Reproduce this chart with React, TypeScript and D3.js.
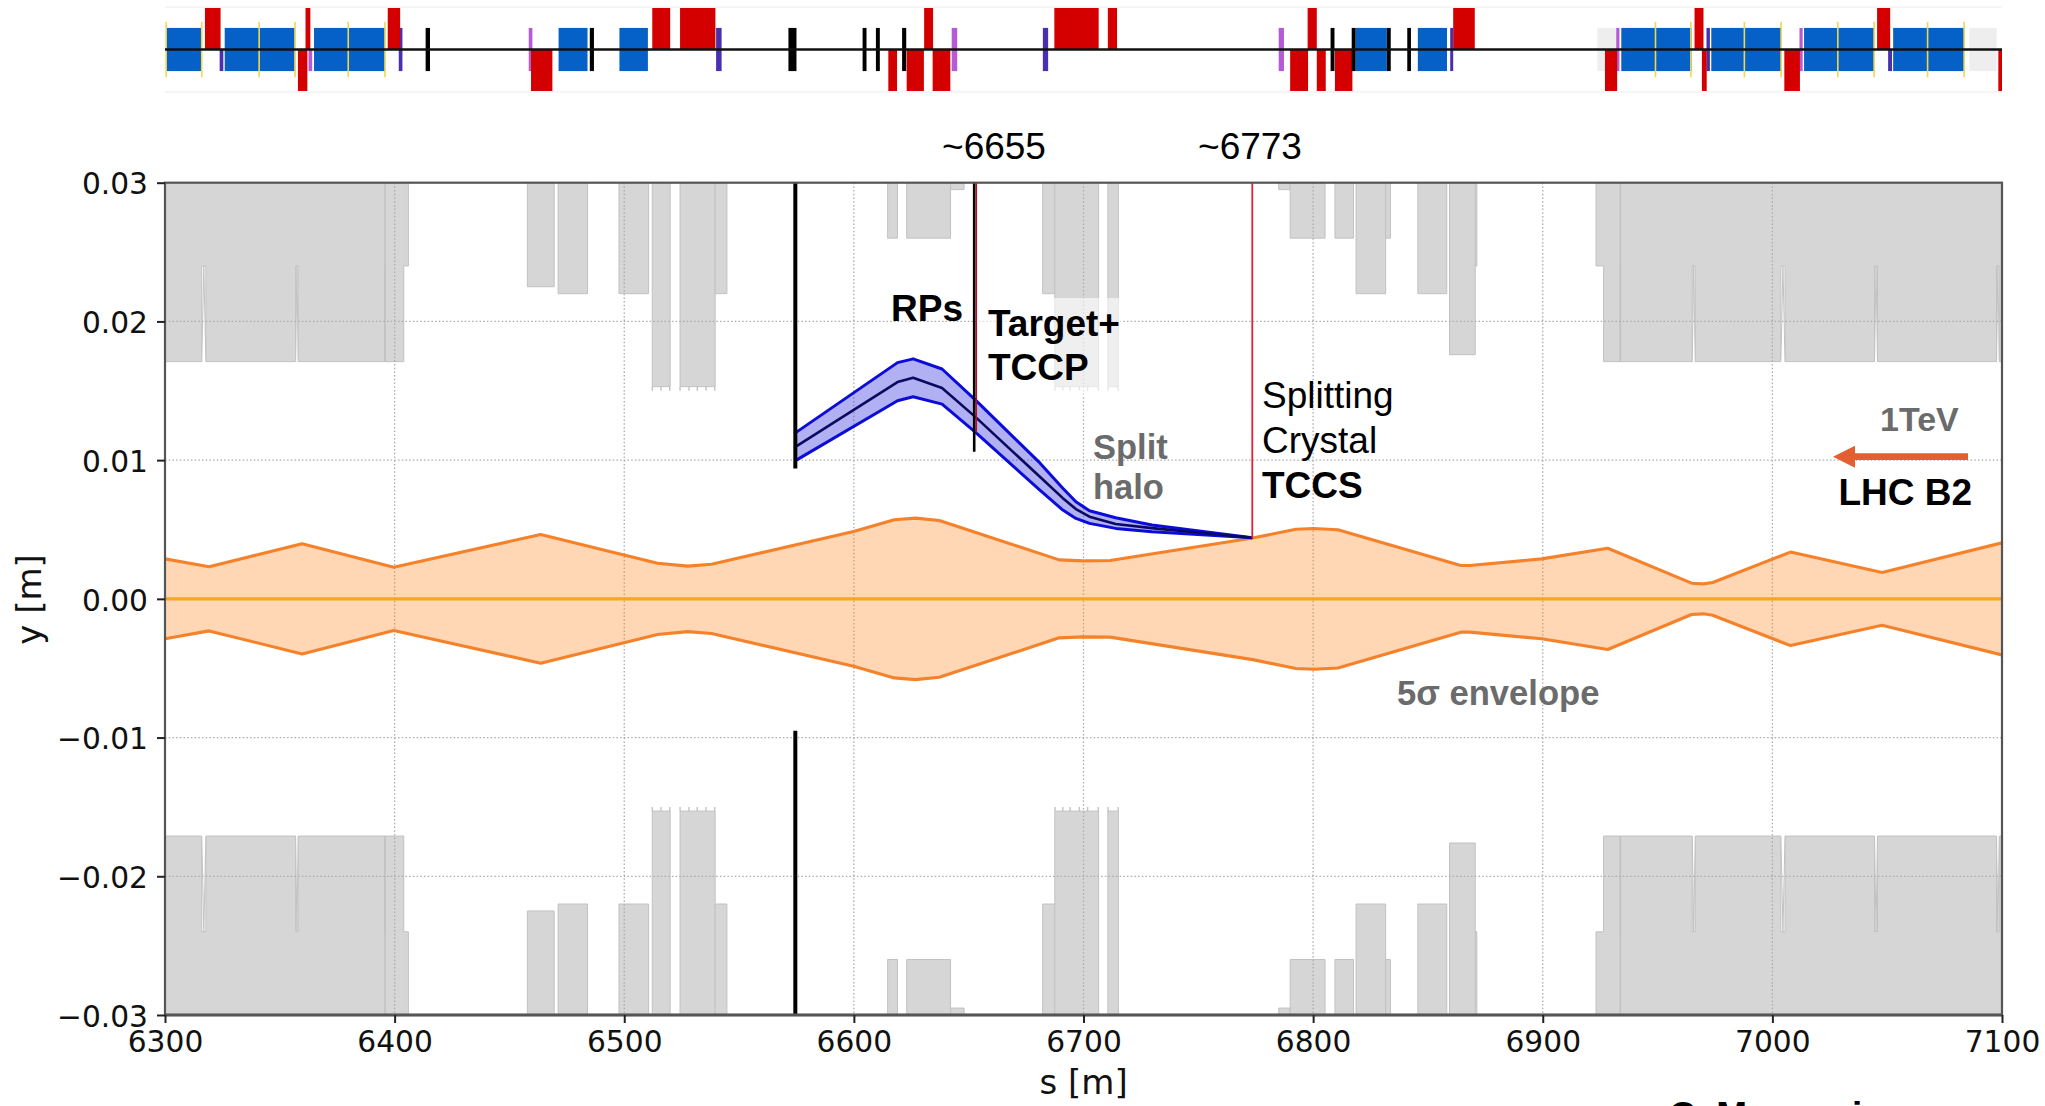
import React, { useEffect, useRef } from "react";
import * as d3 from "d3";

type Span = [number, number];
type Block = [number, number, number];

const xTicks = [6300, 6400, 6500, 6600, 6700, 6800, 6900, 7000, 7100];
const yTicks = [-0.03, -0.02, -0.01, 0, 0.01, 0.02, 0.03];

// 5 sigma envelope, half width
const envS = [6300, 6319.2, 6359.7, 6399.6, 6463.6, 6514.5, 6527.6, 6538, 6599.9, 6617.6, 6626.8, 6637.2, 6689.4, 6699.9, 6711.6, 6773.7, 6792.5, 6800.3, 6810.8, 6864.3, 6868.2, 6899.5, 6928.3, 6964.8, 6970, 6974, 7007.9, 7047.8, 7100];
const envY = [0.00288, 0.00231, 0.00397, 0.00228, 0.00464, 0.00257, 0.00236, 0.0025, 0.00486, 0.0057, 0.00582, 0.00565, 0.00281, 0.00274, 0.00276, 0.00438, 0.00502, 0.00507, 0.00498, 0.0024, 0.0024, 0.00288, 0.00365, 0.00113, 0.00108, 0.00118, 0.00337, 0.0019, 0.00404];

// split halo between the target and the crystal
const haloS = [6574.2, 6619, 6625.8, 6638.4, 6653, 6681, 6691, 6696.7, 6702.6, 6714, 6729.8, 6773.5];
const haloMid = [0.01092, 0.01563, 0.01594, 0.0152, 0.0131, 0.0088, 0.00726, 0.00647, 0.00592, 0.00539, 0.0051, 0.00441];
const haloHigh = [0.01193, 0.01703, 0.0173, 0.01657, 0.01433, 0.0098, 0.00797, 0.007, 0.00635, 0.00585, 0.00532, 0.00441];
const haloLow = [0.00993, 0.01428, 0.01457, 0.01404, 0.012, 0.00784, 0.0064, 0.0058, 0.00544, 0.00508, 0.00484, 0.00441];

// aperture: s start, s end, half height
const apertures: Block[] = [
  [6300, 6406, 0.024], [6300, 6316, 0.0171], [6317.8, 6356.9, 0.0171], [6358, 6395.8, 0.0171], [6395.8, 6404, 0.0171],
  [6457.8, 6469.5, 0.0225], [6471.2, 6484, 0.022], [6497.7, 6510.6, 0.022],
  [6512.2, 6520, 0.0153], [6524.3, 6539.6, 0.0153], [6539.6, 6544.7, 0.022],
  [6614.7, 6619, 0.026], [6623, 6642.1, 0.026], [6642.1, 6648, 0.0295],
  [6682.2, 6687.5, 0.022], [6687.5, 6706.6, 0.0153], [6710.6, 6715.2, 0.0153],
  [6785, 6790, 0.0295], [6790, 6805.2, 0.026], [6809.5, 6817.6, 0.026], [6818.7, 6831.6, 0.022], [6831.6, 6833.7, 0.026],
  [6845.6, 6858.2, 0.022], [6859.4, 6871.3, 0.024], [6859.4, 6870.6, 0.0176],
  [6923.2, 7100, 0.024], [6926.5, 6933.8, 0.0171], [6933.8, 6965.1, 0.0171], [6966.4, 7003.7, 0.0171], [7005.5, 7044.5, 0.0171], [7045.8, 7097.6, 0.0171], [7098.8, 7100, 0.0171],
];
const dipoleGaps: Span[] = [[6316, 6317.8], [6356.9, 6358], [6965.1, 6966.4], [7003.7, 7005.5], [7044.5, 7045.8], [7097.6, 7098.8]];
const seams = [6395.8, 6933.8];
const teeth = [6512.2, 6516, 6519.8, 6524.3, 6528.2, 6531.8, 6535.6, 6539.4, 6687.6, 6691, 6694.2, 6698.2, 6701.8, 6706.4, 6710.7, 6715.1];

// lattice strip elements
const stripShade: Span[] = [[6923.8, 6932], [7085.8, 7097.7]];
const blueElems: Span[] = [[6300.5, 6316], [6326, 6356.7], [6364.9, 6395.8], [6471.4, 6484], [6497.9, 6510.3], [6818.5, 6832.1], [6845.6, 6858.3], [6934.2, 6964.8], [6973.4, 7003.8], [7013.8, 7044.3], [7052.6, 7083.5]];
const yellowMarks = [6300.5, 6316, 6341, 6356.6, 6379.8, 6395.8, 6949.1, 6964.5, 6987.8, 7003.8, 7028.5, 7044.3, 7067.6, 7083.5];
const redUp: Span[] = [[6317.4, 6324.2], [6361.2, 6363.3], [6397, 6402.4], [6512.2, 6520], [6524.3, 6539.7], [6630.6, 6634.5], [6687.3, 6706.6], [6710.6, 6714.6], [6797.6, 6801.6], [6861, 6870.4], [6966.1, 6970], [7045.6, 7051.3]];
const redDown: Span[] = [[6357.9, 6362], [6459.4, 6468.7], [6615, 6618.8], [6623, 6630.5], [6634.3, 6642], [6790, 6797.8], [6801.6, 6805.5], [6809.5, 6817.1], [6927.1, 6932.4], [6969.3, 6971.4], [7005.2, 7012], [7098.4, 7100]];
const blackElems: Span[] = [[6413.5, 6415.4], [6485, 6486.8], [6571.5, 6575], [6603.8, 6605.5], [6609.6, 6611.3], [6621, 6622.8], [6807.6, 6809.3], [6816.8, 6818.5], [6832.1, 6833.8], [6841, 6842.6]];
const purpleFull: Span[] = [[6458.4, 6460], [6642.6, 6645], [6785, 6787.3], [6932, 6933.4], [7011.8, 7013.2]];
const purpleLow: Span[] = [[6362.5, 6364.1]];
const indigoFull: Span[] = [[6401.8, 6403.4], [6540, 6542.4], [6682.3, 6684.6], [6859.7, 6861], [6971.3, 6972.8]];
const indigoLow: Span[] = [[6323.8, 6325.4], [7050.4, 7052.1]];

const W = 2045;
const H = 1106;
const left = 165;
const right = 2002;
const top = 182.7;
const bottom = 1015;

const SANS = "'Liberation Sans', Arial, sans-serif";
const DEJAVU = "'DejaVu Sans', sans-serif";
const GRAY_TXT = "#6b6b6b";
const EDGE = "#c2c2c2";

const x = d3.scaleLinear().domain([6300, 7100]).range([left, right]);
const y = d3.scaleLinear().domain([-0.03, 0.03]).range([bottom, top]);
// strip: +-1 is the full height of a red bend
const sy = d3.scaleLinear().domain([-1, 1]).range([91, 8]);

const App = () => {
  const xAxisRef = useRef<SVGGElement>(null);
  const yAxisRef = useRef<SVGGElement>(null);

  useEffect(() => {
    const xa = d3.select(xAxisRef.current!);
    xa.call(d3.axisBottom(x).tickValues(xTicks).tickFormat(d3.format("d") as any).tickSize(8).tickSizeOuter(0).tickPadding(8) as any);
    const ya = d3.select(yAxisRef.current!);
    ya.call(d3.axisLeft(y).tickValues(yTicks).tickFormat(d3.format(".2f") as any).tickSize(8).tickSizeOuter(0).tickPadding(9) as any);
    ya.selectAll("text").attr("dy", "0.38em");
    for (const a of [xa, ya]) {
      a.attr("font-family", DEJAVU).attr("font-size", 29.7);
      a.selectAll("text").attr("fill", "#111");
      a.selectAll("line").attr("stroke", "#222").attr("stroke-width", 2);
      a.select(".domain").remove();
    }
  }, []);

  const envelope = envS.map((s, i) => ({ s, v: envY[i] }));
  const envArea = d3.area<{ s: number; v: number }>().x((d) => x(d.s)).y0((d) => y(-d.v)).y1((d) => y(d.v));
  const envUp = d3.line<{ s: number; v: number }>().x((d) => x(d.s)).y((d) => y(d.v));
  const envDown = d3.line<{ s: number; v: number }>().x((d) => x(d.s)).y((d) => y(-d.v));

  const haloPts = haloS.map((s, i) => ({ s, m: haloMid[i], h: haloHigh[i], l: haloLow[i] }));
  const haloArea = d3.area<(typeof haloPts)[number]>().x((d) => x(d.s)).y0((d) => y(d.l)).y1((d) => y(d.h));
  const haloLine = (k: "m" | "h" | "l") => d3.line<(typeof haloPts)[number]>().x((d) => x(d.s)).y((d) => y(d[k]))(haloPts) || "";

  const gapLine = d3.line<[number, number]>().x((d) => x(d[0])).y((d) => y(d[1]));

  const stripRects = (spans: Span[], a: number, b: number, fill: string, key: string) =>
    spans.map(([s0, s1], i) => (
      <rect key={key + i} x={x(s0)} width={x(s1) - x(s0)} y={sy(a)} height={sy(b) - sy(a)} fill={fill} />
    ));

  return (
    <svg width={W} height={H} style={{ position: "absolute", left: 0, top: 0, display: "block", background: "#fff" }}>
      <defs>
        <clipPath id="plot">
          <rect x={left} y={top} width={right - left} height={bottom - top} />
        </clipPath>
      </defs>

      {/* lattice strip */}
      <line x1={left} x2={right} y1={7} y2={7} stroke="#ececec" />
      <line x1={left} x2={right} y1={92} y2={92} stroke="#ececec" />
      {stripRects(stripShade, 0.52, -0.52, "#eeeeee", "shade")}
      {stripRects(blueElems, 0.52, -0.52, "#0560c8", "blue")}
      {yellowMarks.map((s) => (
        <line key={s} x1={x(s)} x2={x(s)} y1={sy(0.667)} y2={sy(-0.667)} stroke="#f2d64b" strokeWidth={1.6} />
      ))}
      {stripRects(purpleFull, 0.52, -0.52, "#b65bd6", "pf")}
      {stripRects(purpleLow, 0, -0.52, "#b65bd6", "pl")}
      {stripRects(indigoFull, 0.52, -0.52, "#4a30b0", "if")}
      {stripRects(indigoLow, 0, -0.52, "#4a30b0", "il")}
      {stripRects(redUp, 1, 0, "#d40000", "ru")}
      {stripRects(redDown, 0, -1, "#d40000", "rd")}
      {stripRects(blackElems, 0.52, -0.52, "#000", "bk")}
      <line x1={left} x2={right} y1={sy(0)} y2={sy(0)} stroke="#111" strokeWidth={2.4} />

      <g clipPath="url(#plot)">
        {/* aperture, mirrored around the orbit */}
        {[1, -1].map((sign) => (
          <g key={sign}>
            {apertures.map(([s0, s1, h], i) => {
              const ya = y(sign * h);
              const yb = y(sign * 0.03);
              // dipole blocks only show their sides below the common 0.024 jaw
              const from = h === 0.0171 ? 0.024 : 0.03;
              const edge = gapLine([[s0, sign * from], [s0, sign * h], [s1, sign * h], [s1, sign * from]]) || "";
              return (
                <g key={i}>
                  <rect x={x(s0)} width={x(s1) - x(s0)} y={Math.min(ya, yb)} height={Math.abs(ya - yb)} fill="#d6d6d6" />
                  <path d={edge} fill="none" stroke={EDGE} strokeWidth={1} />
                </g>
              );
            })}
            {seams.map((s) => (
              <line key={s} x1={x(s)} x2={x(s)} y1={y(sign * 0.0171)} y2={y(sign * 0.03)} stroke={EDGE} strokeWidth={1.6} />
            ))}
            {dipoleGaps.map(([s0, s1], i) => (
              <path
                key={i}
                d={gapLine([[s0, sign * 0.0171], [(s0 + s1) / 2, sign * 0.024], [s1, sign * 0.0171]]) || ""}
                fill="#fff"
                stroke={EDGE}
                strokeWidth={1}
              />
            ))}
            {teeth.map((s) => (
              <line key={s} x1={x(s)} x2={x(s)} y1={y(sign * 0.0153)} y2={y(sign * 0.015)} stroke={EDGE} strokeWidth={1.4} />
            ))}
          </g>
        ))}

        {/* grid */}
        {xTicks.slice(1, -1).map((t) => (
          <line key={t} x1={x(t)} x2={x(t)} y1={top} y2={bottom} stroke="#ababab" strokeWidth={1.3} strokeDasharray="1.5 2.2" />
        ))}
        {yTicks.slice(1, -1).map((t) => (
          <line key={t} x1={left} x2={right} y1={y(t)} y2={y(t)} stroke="#ababab" strokeWidth={1.3} strokeDasharray="1.5 2.2" />
        ))}

        {/* washed out box behind the Target+TCCP label */}
        <rect x={978} y={298} width={143} height={97} fill="#fff" fillOpacity={0.6} />

        {/* envelope */}
        <path d={envArea(envelope) || ""} fill="#ff7f0e" fillOpacity={0.31} />
        <path d={envUp(envelope) || ""} fill="none" stroke="#f5822a" strokeWidth={3.1} strokeLinejoin="round" />
        <path d={envDown(envelope) || ""} fill="none" stroke="#f5822a" strokeWidth={3.1} strokeLinejoin="round" />
        <line x1={left} x2={right} y1={y(0)} y2={y(0)} stroke="#f6a524" strokeWidth={3.2} />

        {/* split halo */}
        <path d={haloArea(haloPts) || ""} fill="#3a3ae0" fillOpacity={0.4} />
        <path d={haloLine("h")} fill="none" stroke="#0c0cd8" strokeWidth={3} strokeLinejoin="round" />
        <path d={haloLine("l")} fill="none" stroke="#0c0cd8" strokeWidth={3} strokeLinejoin="round" />
        <path d={haloLine("m")} fill="none" stroke="#0a0a60" strokeWidth={2.6} strokeLinejoin="round" />

        {/* RPs, target, crystal */}
        <line x1={x(6574.5)} x2={x(6574.5)} y1={y(0.03)} y2={y(0.0094)} stroke="#000" strokeWidth={4} />
        <line x1={x(6574.5)} x2={x(6574.5)} y1={y(-0.0095)} y2={y(-0.03)} stroke="#000" strokeWidth={4} />
        <line x1={x(6652.4)} x2={x(6652.4)} y1={y(0.03)} y2={y(0.0106)} stroke="#000" strokeWidth={2.6} />
        <line x1={x(6653.3)} x2={x(6653.3)} y1={y(0.03)} y2={y(0.012)} stroke="#b0102a" strokeWidth={1.6} />
        <line x1={x(6773.5)} x2={x(6773.5)} y1={y(0.03)} y2={y(0.0044)} stroke="#e5203a" strokeWidth={1.8} />
      </g>

      {/* frame */}
      <rect x={left} y={top} width={right - left} height={bottom - top} fill="none" stroke="#555" strokeWidth={2.2} />
      <line x1={left} x2={right} y1={bottom} y2={bottom} stroke="#555" strokeWidth={3} />

      <g ref={xAxisRef} transform={`translate(0,${bottom})`} />
      <g ref={yAxisRef} transform={`translate(${left},0)`} />

      <text x={1083.6} y={1094} textAnchor="middle" fontFamily={DEJAVU} fontSize={34} fill="#111">s [m]</text>
      <text transform="translate(41,599.5) rotate(-90)" textAnchor="middle" fontFamily={DEJAVU} fontSize={34} fill="#111">y [m]</text>

      <g fontFamily={SANS} fontSize={37} fill="#000">
        <text x={994} y={159} textAnchor="middle">~6655</text>
        <text x={1250} y={159} textAnchor="middle">~6773</text>
        <text x={891} y={321} fontWeight="bold">RPs</text>
        <text x={988} y={336} fontWeight="bold">Target+</text>
        <text x={988} y={380} fontWeight="bold">TCCP</text>
        <text x={1262} y={408}>Splitting</text>
        <text x={1262} y={453}>Crystal</text>
        <text x={1262} y={498} fontWeight="bold">TCCS</text>
        <text x={1838.5} y={505} fontWeight="bold">LHC B2</text>
        <text x={1669} y={1128} fontWeight="bold">C. Maccani</text>
      </g>
      <g fontFamily={SANS} fontWeight="bold" fill={GRAY_TXT}>
        <text x={1093} y={459} fontSize={34.5}>Split</text>
        <text x={1093} y={499} fontSize={34.5}>halo</text>
        <text x={1880} y={431} fontSize={34}>1TeV</text>
        <text x={1397} y={705} fontSize={34.6}>5σ envelope</text>
      </g>

      {/* beam direction */}
      <path d="M1968 453.3H1855V445.7L1833 456.7L1855 467.7V460.1H1968Z" fill="#e35f30" />
    </svg>
  );
};

export default App;
